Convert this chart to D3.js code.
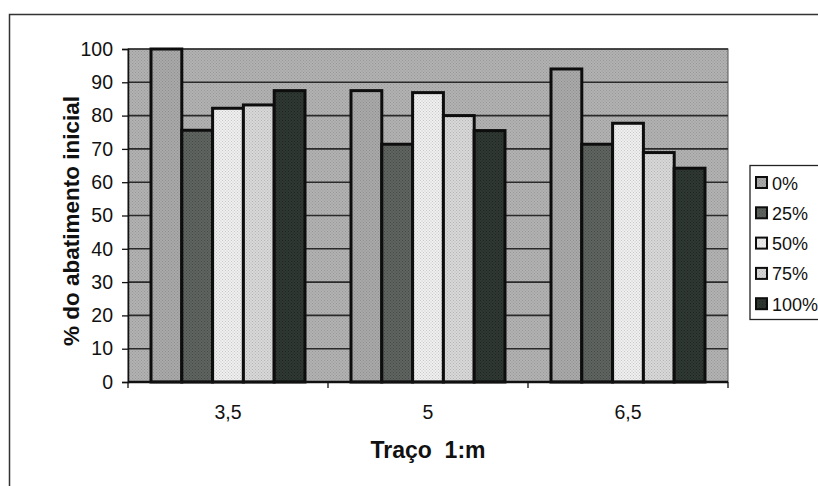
<!DOCTYPE html>
<html>
<head>
<meta charset="utf-8">
<script src="https://cdn.jsdelivr.net/npm/d3@7/dist/d3.min.js"></script>
<style>
  html, body { margin: 0; padding: 0; background: #fff; }
  svg { display: block; }
  text { font-family: "Liberation Sans", Arial, sans-serif; }
</style>
</head>
<body>
<svg id="chart" width="818" height="486"></svg>
<script>
// Categories (traço 1:m) and the five series (% de substituição)
const categories = ["3,5", "5", "6,5"];
const seriesNames = ["0%", "25%", "50%", "75%", "100%"];
const s0   = [100, 87.5, 94];
const s25  = [75.6, 71.4, 71.4];
const s50  = [82.2, 86.9, 77.7];
const s75  = [83.2, 80, 68.9];
const s100 = [87.5, 75.5, 64.2];
const seriesValues = [s0, s25, s50, s75, s100];
const yTicks = [0, 10, 20, 30, 40, 50, 60, 70, 80, 90, 100];

const fills = [
  { base: "#a9a9a9", dot: "#8f8f8f" },
  { base: "#5f6461", dot: "#454a47" },
  { base: "#efefef", dot: "#c9c9c9" },
  { base: "#d8d8d8", dot: "#b4b4b4" },
  { base: "#2f3833", dot: "#1e2521" }
];

const svg = d3.select("#chart");
const defs = svg.append("defs");

// halftone-like textures
function makePattern(id, base, dot) {
  const p = defs.append("pattern")
    .attr("id", id).attr("patternUnits", "userSpaceOnUse")
    .attr("width", 3).attr("height", 3);
  p.append("rect").attr("width", 3).attr("height", 3).attr("fill", base);
  p.append("rect").attr("x", 0).attr("y", 0).attr("width", 1).attr("height", 1).attr("fill", dot);
  p.append("rect").attr("x", 1.5).attr("y", 1.5).attr("width", 1).attr("height", 1).attr("fill", dot);
}
makePattern("bgPat", "#b2b2b2", "#989898");
fills.forEach((f, i) => makePattern("pat" + i, f.base, f.dot));

// outer chart frame (only top and left edges fall inside the view)
svg.append("path")
  .attr("d", "M9.5,486 L9.5,14.5 L818,14.5")
  .attr("fill", "none").attr("stroke", "#333").attr("stroke-width", 1.5);

const plot = { left: 128, top: 49, right: 728, bottom: 382 };

const x = d3.scaleBand().domain(categories).range([plot.left, plot.right]).padding(0);
const xs = d3.scaleBand().domain(seriesNames)
  .range([23, x.bandwidth() - 23]).padding(0);
const y = d3.scaleLinear().domain([0, 100]).range([plot.bottom, plot.top]);

// plot background
svg.append("rect")
  .attr("x", plot.left).attr("y", plot.top)
  .attr("width", plot.right - plot.left).attr("height", plot.bottom - plot.top)
  .attr("fill", "url(#bgPat)").attr("stroke", "#555").attr("stroke-width", 1);

// horizontal gridlines
svg.append("g").selectAll("line")
  .data(yTicks.filter(t => t > 0))
  .join("line")
  .attr("x1", plot.left).attr("x2", plot.right)
  .attr("y1", d => y(d)).attr("y2", d => y(d))
  .attr("stroke", "#2a2a2a").attr("stroke-width", 1.6);

// bars
const data = [];
categories.forEach((c, ci) => {
  seriesNames.forEach((s, si) => data.push({ cat: c, ser: s, si, v: seriesValues[si][ci] }));
});
svg.append("g").selectAll("rect")
  .data(data)
  .join("rect")
  .attr("x", d => x(d.cat) + xs(d.ser))
  .attr("y", d => y(d.v))
  .attr("width", xs.bandwidth())
  .attr("height", d => y(0) - y(d.v))
  .attr("fill", d => "url(#pat" + d.si + ")")
  .attr("stroke", "#0d0d0d").attr("stroke-width", 3);

// y axis
const yAxis = d3.axisLeft(y).tickValues(yTicks).tickSize(6).tickPadding(9).tickFormat(d3.format("d"));
const gy = svg.append("g").attr("transform", `translate(${plot.left},0)`).call(yAxis);
gy.select(".domain").attr("stroke", "#111").attr("stroke-width", 1.5);
gy.selectAll(".tick line").attr("stroke", "#111").attr("stroke-width", 1.3);
gy.selectAll(".tick text").attr("font-size", 19.5).attr("fill", "#111")
  .attr("font-family", "'Liberation Sans', Arial, sans-serif");

// x axis: ticks at category boundaries, labels centred in each band
const boundaries = [plot.left, ...categories.map(c => x(c) + x.bandwidth())];
const gx = svg.append("g");
gx.append("line")
  .attr("x1", plot.left).attr("x2", plot.right)
  .attr("y1", plot.bottom).attr("y2", plot.bottom)
  .attr("stroke", "#111").attr("stroke-width", 2.5);
gx.selectAll("line.tk").data(boundaries).join("line").attr("class", "tk")
  .attr("x1", d => d).attr("x2", d => d)
  .attr("y1", plot.bottom).attr("y2", plot.bottom + 6)
  .attr("stroke", "#111").attr("stroke-width", 1.3);
gx.selectAll("text").data(categories).join("text")
  .attr("x", d => x(d) + x.bandwidth() / 2)
  .attr("y", 419)
  .attr("text-anchor", "middle")
  .attr("font-size", 19.5).attr("fill", "#111")
  .text(d => d);

// axis titles
svg.append("text")
  .attr("x", 428).attr("y", 458)
  .attr("text-anchor", "middle")
  .attr("font-size", 23).attr("font-weight", "bold").attr("fill", "#111")
  .style("white-space", "pre")
  .text("Traço  1:m");

svg.append("text")
  .attr("transform", "translate(79,221) rotate(-90)")
  .attr("text-anchor", "middle")
  .attr("font-size", 22.5).attr("font-weight", "bold").attr("fill", "#111")
  .text("% do abatimento inicial");

// legend
const lg = svg.append("g");
lg.append("rect")
  .attr("x", 750).attr("y", 165.5).attr("width", 80).attr("height", 154)
  .attr("fill", "#fff").attr("stroke", "#222").attr("stroke-width", 1.3);
const items = lg.selectAll("g.item").data(seriesNames).join("g").attr("class", "item")
  .attr("transform", (d, i) => `translate(756,${183 + i * 30.3})`);
items.append("rect")
  .attr("x", 0).attr("y", -6).attr("width", 11).attr("height", 11)
  .attr("fill", (d, i) => "url(#pat" + i + ")")
  .attr("stroke", "#0d0d0d").attr("stroke-width", 2);
items.append("text")
  .attr("x", 16).attr("y", 6.5)
  .attr("font-size", 18).attr("fill", "#111")
  .text(d => d);
</script>
</body>
</html>
